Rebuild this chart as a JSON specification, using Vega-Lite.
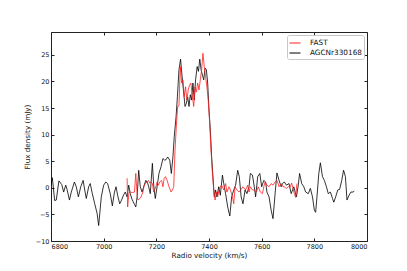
{
  "$schema": "https://vega.github.io/schema/vega-lite/v6.json",
  "autosize": "none",
  "width": 316,
  "height": 209,
  "padding": {"left": 51, "top": 32, "right": 40, "bottom": 30},
  "config": {
    "font": "DejaVu Sans",
    "view": {"stroke": "#222", "strokeWidth": 1},
    "axis": {"grid": false, "domain": false, "tickColor": "#222", "labelColor": "#111", "titleColor": "#111", "labelFontSize": 6.5, "titleFontSize": 7.2, "titleFontWeight": "normal", "tickSize": -3, "labelPadding": 5}
  },
  "datasets": {
    "spec": [
      {"v": 6800, "flux": 0.5, "series": "AGCNr330168"},
      {"v": 6805, "flux": 1.9, "series": "AGCNr330168"},
      {"v": 6814, "flux": -2.4, "series": "AGCNr330168"},
      {"v": 6820, "flux": -2.3, "series": "AGCNr330168"},
      {"v": 6830, "flux": 1.3, "series": "AGCNr330168"},
      {"v": 6841, "flux": 0.6, "series": "AGCNr330168"},
      {"v": 6848, "flux": -0.8, "series": "AGCNr330168"},
      {"v": 6856, "flux": 0.5, "series": "AGCNr330168"},
      {"v": 6861, "flux": -0.3, "series": "AGCNr330168"},
      {"v": 6870, "flux": -2.3, "series": "AGCNr330168"},
      {"v": 6877, "flux": -0.8, "series": "AGCNr330168"},
      {"v": 6889, "flux": 1.1, "series": "AGCNr330168"},
      {"v": 6896, "flux": 0.2, "series": "AGCNr330168"},
      {"v": 6904, "flux": -1.7, "series": "AGCNr330168"},
      {"v": 6913, "flux": 0.2, "series": "AGCNr330168"},
      {"v": 6922, "flux": 1.4, "series": "AGCNr330168"},
      {"v": 6928, "flux": -0.4, "series": "AGCNr330168"},
      {"v": 6934, "flux": -2.0, "series": "AGCNr330168"},
      {"v": 6943, "flux": 0.2, "series": "AGCNr330168"},
      {"v": 6949, "flux": 0.8, "series": "AGCNr330168"},
      {"v": 6957, "flux": -1.1, "series": "AGCNr330168"},
      {"v": 6966, "flux": -3.0, "series": "AGCNr330168"},
      {"v": 6975, "flux": -4.8, "series": "AGCNr330168"},
      {"v": 6981, "flux": -7.1, "series": "AGCNr330168"},
      {"v": 6991, "flux": -1.7, "series": "AGCNr330168"},
      {"v": 7000, "flux": 0.5, "series": "AGCNr330168"},
      {"v": 7008, "flux": 1.1, "series": "AGCNr330168"},
      {"v": 7015, "flux": 0.8, "series": "AGCNr330168"},
      {"v": 7025, "flux": -1.1, "series": "AGCNr330168"},
      {"v": 7033, "flux": -3.4, "series": "AGCNr330168"},
      {"v": 7041, "flux": -0.8, "series": "AGCNr330168"},
      {"v": 7047, "flux": 0.2, "series": "AGCNr330168"},
      {"v": 7053, "flux": -1.4, "series": "AGCNr330168"},
      {"v": 7061, "flux": -3.0, "series": "AGCNr330168"},
      {"v": 7068, "flux": -2.3, "series": "AGCNr330168"},
      {"v": 7076, "flux": -1.3, "series": "AGCNr330168"},
      {"v": 7082, "flux": -0.8, "series": "AGCNr330168"},
      {"v": 7089, "flux": -1.7, "series": "AGCNr330168"},
      {"v": 7095, "flux": 0.5, "series": "AGCNr330168"},
      {"v": 7101, "flux": -1.1, "series": "AGCNr330168"},
      {"v": 7108, "flux": -2.2, "series": "AGCNr330168"},
      {"v": 7117, "flux": -3.1, "series": "AGCNr330168"},
      {"v": 7122, "flux": -3.6, "series": "AGCNr330168"},
      {"v": 7127, "flux": -1.7, "series": "AGCNr330168"},
      {"v": 7133, "flux": 3.3, "series": "AGCNr330168"},
      {"v": 7139, "flux": 0.2, "series": "AGCNr330168"},
      {"v": 7146, "flux": -0.8, "series": "AGCNr330168"},
      {"v": 7152, "flux": 0.2, "series": "AGCNr330168"},
      {"v": 7160, "flux": 1.4, "series": "AGCNr330168"},
      {"v": 7167, "flux": 0.9, "series": "AGCNr330168"},
      {"v": 7171, "flux": 0.2, "series": "AGCNr330168"},
      {"v": 7177, "flux": -1.1, "series": "AGCNr330168"},
      {"v": 7185, "flux": 4.6, "series": "AGCNr330168"},
      {"v": 7190, "flux": 0.5, "series": "AGCNr330168"},
      {"v": 7196, "flux": -2.0, "series": "AGCNr330168"},
      {"v": 7203, "flux": 0.2, "series": "AGCNr330168"},
      {"v": 7210, "flux": 2.7, "series": "AGCNr330168"},
      {"v": 7218, "flux": 4.0, "series": "AGCNr330168"},
      {"v": 7225, "flux": 5.5, "series": "AGCNr330168"},
      {"v": 7232, "flux": 5.2, "series": "AGCNr330168"},
      {"v": 7237, "flux": 5.3, "series": "AGCNr330168"},
      {"v": 7243, "flux": 5.8, "series": "AGCNr330168"},
      {"v": 7251, "flux": 5.2, "series": "AGCNr330168"},
      {"v": 7257, "flux": 2.7, "series": "AGCNr330168"},
      {"v": 7263, "flux": 5.8, "series": "AGCNr330168"},
      {"v": 7268, "flux": 9.6, "series": "AGCNr330168"},
      {"v": 7275, "flux": 13.4, "series": "AGCNr330168"},
      {"v": 7280, "flux": 17.1, "series": "AGCNr330168"},
      {"v": 7286, "flux": 22.2, "series": "AGCNr330168"},
      {"v": 7292, "flux": 24.2, "series": "AGCNr330168"},
      {"v": 7298, "flux": 20.9, "series": "AGCNr330168"},
      {"v": 7304, "flux": 17.8, "series": "AGCNr330168"},
      {"v": 7309, "flux": 15.3, "series": "AGCNr330168"},
      {"v": 7314, "flux": 15.9, "series": "AGCNr330168"},
      {"v": 7319, "flux": 17.1, "series": "AGCNr330168"},
      {"v": 7324, "flux": 15.3, "series": "AGCNr330168"},
      {"v": 7329, "flux": 17.5, "series": "AGCNr330168"},
      {"v": 7334, "flux": 16.5, "series": "AGCNr330168"},
      {"v": 7339, "flux": 19.7, "series": "AGCNr330168"},
      {"v": 7344, "flux": 16.5, "series": "AGCNr330168"},
      {"v": 7349, "flux": 20.3, "series": "AGCNr330168"},
      {"v": 7355, "flux": 22.8, "series": "AGCNr330168"},
      {"v": 7360, "flux": 21.9, "series": "AGCNr330168"},
      {"v": 7365, "flux": 24.2, "series": "AGCNr330168"},
      {"v": 7370, "flux": 22.2, "series": "AGCNr330168"},
      {"v": 7375, "flux": 21.2, "series": "AGCNr330168"},
      {"v": 7380, "flux": 20.3, "series": "AGCNr330168"},
      {"v": 7385, "flux": 22.5, "series": "AGCNr330168"},
      {"v": 7390, "flux": 22.2, "series": "AGCNr330168"},
      {"v": 7395, "flux": 19.7, "series": "AGCNr330168"},
      {"v": 7400, "flux": 14.6, "series": "AGCNr330168"},
      {"v": 7405, "flux": 10.9, "series": "AGCNr330168"},
      {"v": 7410, "flux": 5.8, "series": "AGCNr330168"},
      {"v": 7415, "flux": 2.1, "series": "AGCNr330168"},
      {"v": 7420, "flux": -1.7, "series": "AGCNr330168"},
      {"v": 7425, "flux": -0.4, "series": "AGCNr330168"},
      {"v": 7430, "flux": -1.7, "series": "AGCNr330168"},
      {"v": 7437, "flux": 0.2, "series": "AGCNr330168"},
      {"v": 7443, "flux": -1.4, "series": "AGCNr330168"},
      {"v": 7451, "flux": 2.4, "series": "AGCNr330168"},
      {"v": 7456, "flux": 0.8, "series": "AGCNr330168"},
      {"v": 7463, "flux": -1.1, "series": "AGCNr330168"},
      {"v": 7471, "flux": -3.6, "series": "AGCNr330168"},
      {"v": 7479, "flux": -5.3, "series": "AGCNr330168"},
      {"v": 7486, "flux": -1.7, "series": "AGCNr330168"},
      {"v": 7494, "flux": -0.4, "series": "AGCNr330168"},
      {"v": 7501, "flux": 0.5, "series": "AGCNr330168"},
      {"v": 7509, "flux": 3.3, "series": "AGCNr330168"},
      {"v": 7515, "flux": 2.1, "series": "AGCNr330168"},
      {"v": 7522, "flux": -1.7, "series": "AGCNr330168"},
      {"v": 7529, "flux": -3.0, "series": "AGCNr330168"},
      {"v": 7537, "flux": -0.4, "series": "AGCNr330168"},
      {"v": 7544, "flux": -1.1, "series": "AGCNr330168"},
      {"v": 7552, "flux": 0.2, "series": "AGCNr330168"},
      {"v": 7557, "flux": 2.7, "series": "AGCNr330168"},
      {"v": 7565, "flux": 2.4, "series": "AGCNr330168"},
      {"v": 7572, "flux": 0.2, "series": "AGCNr330168"},
      {"v": 7577, "flux": -1.7, "series": "AGCNr330168"},
      {"v": 7585, "flux": 2.1, "series": "AGCNr330168"},
      {"v": 7593, "flux": 2.7, "series": "AGCNr330168"},
      {"v": 7600, "flux": 0.2, "series": "AGCNr330168"},
      {"v": 7608, "flux": 1.4, "series": "AGCNr330168"},
      {"v": 7615, "flux": 1.1, "series": "AGCNr330168"},
      {"v": 7620, "flux": -0.8, "series": "AGCNr330168"},
      {"v": 7628, "flux": -1.7, "series": "AGCNr330168"},
      {"v": 7636, "flux": -4.2, "series": "AGCNr330168"},
      {"v": 7643, "flux": -5.8, "series": "AGCNr330168"},
      {"v": 7651, "flux": -1.1, "series": "AGCNr330168"},
      {"v": 7658, "flux": 2.8, "series": "AGCNr330168"},
      {"v": 7666, "flux": 1.4, "series": "AGCNr330168"},
      {"v": 7674, "flux": 0.2, "series": "AGCNr330168"},
      {"v": 7679, "flux": 0.8, "series": "AGCNr330168"},
      {"v": 7686, "flux": 1.1, "series": "AGCNr330168"},
      {"v": 7694, "flux": 0.5, "series": "AGCNr330168"},
      {"v": 7704, "flux": 0.8, "series": "AGCNr330168"},
      {"v": 7712, "flux": -1.1, "series": "AGCNr330168"},
      {"v": 7722, "flux": 0.2, "series": "AGCNr330168"},
      {"v": 7732, "flux": -1.7, "series": "AGCNr330168"},
      {"v": 7739, "flux": 0.5, "series": "AGCNr330168"},
      {"v": 7744, "flux": 2.7, "series": "AGCNr330168"},
      {"v": 7752, "flux": 0.8, "series": "AGCNr330168"},
      {"v": 7760, "flux": 0.2, "series": "AGCNr330168"},
      {"v": 7767, "flux": -0.8, "series": "AGCNr330168"},
      {"v": 7777, "flux": -1.1, "series": "AGCNr330168"},
      {"v": 7785, "flux": -0.1, "series": "AGCNr330168"},
      {"v": 7793, "flux": -1.7, "series": "AGCNr330168"},
      {"v": 7800, "flux": -4.2, "series": "AGCNr330168"},
      {"v": 7805, "flux": -4.6, "series": "AGCNr330168"},
      {"v": 7810, "flux": -1.7, "series": "AGCNr330168"},
      {"v": 7817, "flux": 2.7, "series": "AGCNr330168"},
      {"v": 7823, "flux": 4.7, "series": "AGCNr330168"},
      {"v": 7831, "flux": 2.1, "series": "AGCNr330168"},
      {"v": 7838, "flux": 1.4, "series": "AGCNr330168"},
      {"v": 7846, "flux": 0.2, "series": "AGCNr330168"},
      {"v": 7853, "flux": -1.1, "series": "AGCNr330168"},
      {"v": 7861, "flux": -0.8, "series": "AGCNr330168"},
      {"v": 7869, "flux": -2.0, "series": "AGCNr330168"},
      {"v": 7874, "flux": -2.7, "series": "AGCNr330168"},
      {"v": 7881, "flux": -1.7, "series": "AGCNr330168"},
      {"v": 7889, "flux": -0.4, "series": "AGCNr330168"},
      {"v": 7896, "flux": -0.3, "series": "AGCNr330168"},
      {"v": 7904, "flux": 1.4, "series": "AGCNr330168"},
      {"v": 7911, "flux": 3.3, "series": "AGCNr330168"},
      {"v": 7918, "flux": 2.1, "series": "AGCNr330168"},
      {"v": 7924, "flux": -2.3, "series": "AGCNr330168"},
      {"v": 7932, "flux": -1.4, "series": "AGCNr330168"},
      {"v": 7939, "flux": -0.8, "series": "AGCNr330168"},
      {"v": 7947, "flux": -0.8, "series": "AGCNr330168"},
      {"v": 7952, "flux": -0.6, "series": "AGCNr330168"},
      {"v": 7089, "flux": 1.8, "series": "FAST"},
      {"v": 7091, "flux": -3.6, "series": "FAST"},
      {"v": 7096, "flux": -0.9, "series": "FAST"},
      {"v": 7101, "flux": -0.8, "series": "FAST"},
      {"v": 7109, "flux": -0.9, "series": "FAST"},
      {"v": 7117, "flux": -0.8, "series": "FAST"},
      {"v": 7122, "flux": 2.7, "series": "FAST"},
      {"v": 7125, "flux": 0.2, "series": "FAST"},
      {"v": 7129, "flux": -2.2, "series": "FAST"},
      {"v": 7134, "flux": -2.2, "series": "FAST"},
      {"v": 7142, "flux": -1.7, "series": "FAST"},
      {"v": 7149, "flux": -0.8, "series": "FAST"},
      {"v": 7154, "flux": 0.5, "series": "FAST"},
      {"v": 7160, "flux": 0.9, "series": "FAST"},
      {"v": 7165, "flux": 1.1, "series": "FAST"},
      {"v": 7170, "flux": 1.4, "series": "FAST"},
      {"v": 7175, "flux": 0.9, "series": "FAST"},
      {"v": 7180, "flux": 1.1, "series": "FAST"},
      {"v": 7185, "flux": 0.8, "series": "FAST"},
      {"v": 7190, "flux": -0.8, "series": "FAST"},
      {"v": 7198, "flux": 0.2, "series": "FAST"},
      {"v": 7203, "flux": 1.1, "series": "FAST"},
      {"v": 7208, "flux": 0.5, "series": "FAST"},
      {"v": 7213, "flux": 1.1, "series": "FAST"},
      {"v": 7220, "flux": 1.4, "series": "FAST"},
      {"v": 7225, "flux": 0.2, "series": "FAST"},
      {"v": 7230, "flux": 1.8, "series": "FAST"},
      {"v": 7235, "flux": 2.1, "series": "FAST"},
      {"v": 7241, "flux": 1.4, "series": "FAST"},
      {"v": 7248, "flux": 0.2, "series": "FAST"},
      {"v": 7256, "flux": -0.8, "series": "FAST"},
      {"v": 7261, "flux": -0.4, "series": "FAST"},
      {"v": 7266, "flux": 0.2, "series": "FAST"},
      {"v": 7271, "flux": 7.1, "series": "FAST"},
      {"v": 7276, "flux": 11.6, "series": "FAST"},
      {"v": 7281, "flux": 15.3, "series": "FAST"},
      {"v": 7286, "flux": 15.4, "series": "FAST"},
      {"v": 7291, "flux": 22.8, "series": "FAST"},
      {"v": 7296, "flux": 19.7, "series": "FAST"},
      {"v": 7301, "flux": 20.3, "series": "FAST"},
      {"v": 7306, "flux": 17.1, "series": "FAST"},
      {"v": 7311, "flux": 19.0, "series": "FAST"},
      {"v": 7316, "flux": 16.5, "series": "FAST"},
      {"v": 7321, "flux": 18.4, "series": "FAST"},
      {"v": 7326, "flux": 19.3, "series": "FAST"},
      {"v": 7331, "flux": 19.7, "series": "FAST"},
      {"v": 7337, "flux": 17.1, "series": "FAST"},
      {"v": 7342, "flux": 15.3, "series": "FAST"},
      {"v": 7347, "flux": 19.0, "series": "FAST"},
      {"v": 7352, "flux": 18.0, "series": "FAST"},
      {"v": 7357, "flux": 19.7, "series": "FAST"},
      {"v": 7362, "flux": 18.4, "series": "FAST"},
      {"v": 7367, "flux": 20.3, "series": "FAST"},
      {"v": 7372, "flux": 22.2, "series": "FAST"},
      {"v": 7377, "flux": 25.3, "series": "FAST"},
      {"v": 7382, "flux": 22.8, "series": "FAST"},
      {"v": 7387, "flux": 20.9, "series": "FAST"},
      {"v": 7392, "flux": 19.0, "series": "FAST"},
      {"v": 7397, "flux": 16.5, "series": "FAST"},
      {"v": 7402, "flux": 12.7, "series": "FAST"},
      {"v": 7407, "flux": 7.7, "series": "FAST"},
      {"v": 7413, "flux": 2.7, "series": "FAST"},
      {"v": 7418, "flux": -0.4, "series": "FAST"},
      {"v": 7423, "flux": -2.3, "series": "FAST"},
      {"v": 7428, "flux": -0.8, "series": "FAST"},
      {"v": 7433, "flux": -1.7, "series": "FAST"},
      {"v": 7438, "flux": -0.4, "series": "FAST"},
      {"v": 7443, "flux": 0.2, "series": "FAST"},
      {"v": 7448, "flux": 0.5, "series": "FAST"},
      {"v": 7456, "flux": -0.4, "series": "FAST"},
      {"v": 7463, "flux": 0.8, "series": "FAST"},
      {"v": 7468, "flux": -0.8, "series": "FAST"},
      {"v": 7476, "flux": 0.2, "series": "FAST"},
      {"v": 7481, "flux": -0.4, "series": "FAST"},
      {"v": 7488, "flux": -1.4, "series": "FAST"},
      {"v": 7494, "flux": -3.0, "series": "FAST"},
      {"v": 7499, "flux": 0.2, "series": "FAST"},
      {"v": 7506, "flux": -0.4, "series": "FAST"},
      {"v": 7514, "flux": -0.8, "series": "FAST"},
      {"v": 7522, "flux": -0.3, "series": "FAST"},
      {"v": 7529, "flux": 0.2, "series": "FAST"},
      {"v": 7539, "flux": -0.4, "series": "FAST"},
      {"v": 7547, "flux": 0.5, "series": "FAST"},
      {"v": 7552, "flux": -0.8, "series": "FAST"},
      {"v": 7557, "flux": 0.2, "series": "FAST"},
      {"v": 7565, "flux": -0.4, "series": "FAST"},
      {"v": 7572, "flux": -0.4, "series": "FAST"},
      {"v": 7580, "flux": -0.8, "series": "FAST"},
      {"v": 7587, "flux": 0.2, "series": "FAST"},
      {"v": 7595, "flux": -0.8, "series": "FAST"},
      {"v": 7603, "flux": -1.1, "series": "FAST"},
      {"v": 7608, "flux": 0.2, "series": "FAST"},
      {"v": 7613, "flux": 1.1, "series": "FAST"},
      {"v": 7620, "flux": 0.5, "series": "FAST"},
      {"v": 7628, "flux": 0.2, "series": "FAST"},
      {"v": 7636, "flux": 0.8, "series": "FAST"},
      {"v": 7643, "flux": 0.5, "series": "FAST"},
      {"v": 7651, "flux": 1.1, "series": "FAST"},
      {"v": 7658, "flux": 1.4, "series": "FAST"},
      {"v": 7666, "flux": 0.2, "series": "FAST"},
      {"v": 7674, "flux": 0.8, "series": "FAST"},
      {"v": 7681, "flux": 0.2, "series": "FAST"},
      {"v": 7686, "flux": 0.2, "series": "FAST"},
      {"v": 7694, "flux": -0.1, "series": "FAST"},
      {"v": 7701, "flux": 0.2, "series": "FAST"},
      {"v": 7709, "flux": 0.2, "series": "FAST"},
      {"v": 7714, "flux": 0.9, "series": "FAST"},
      {"v": 7719, "flux": -0.1, "series": "FAST"},
      {"v": 7724, "flux": -1.1, "series": "FAST"},
      {"v": 7729, "flux": -1.8, "series": "FAST"},
      {"v": 7734, "flux": 0.8, "series": "FAST"}
    ]
  },
  "data": {"name": "spec"},
  "layer": [
    {
      "mark": {"type": "line", "strokeWidth": 0.8, "clip": true},
      "encoding": {
        "x": {"field": "v", "type": "quantitative", "scale": {"domain": [6800, 8000], "nice": false, "zero": false},
              "axis": {"orient": "bottom", "values": [6800, 7000, 7200, 7400, 7600, 7800, 8000], "title": "Radio velocity (km/s)", "format": "d", "titlePadding": 2}},
        "y": {"field": "flux", "type": "quantitative", "scale": {"domain": [-10, 29.3], "nice": false, "zero": false},
              "axis": {"orient": "left", "values": [-10, -5, 0, 5, 10, 15, 20, 25], "title": "Flux density (mJy)", "titlePadding": 4}},
        "color": {"field": "series", "type": "nominal", "sort": ["FAST", "AGCNr330168"],
                  "scale": {"domain": ["FAST", "AGCNr330168"], "range": ["#ff2020", "#000000"]},
                  "legend": {"title": null, "orient": "top-right", "offset": 3, "symbolType": "stroke", "symbolSize": 121, "symbolStrokeWidth": 1, "labelFontSize": 7.3, "labelColor": "#111", "strokeColor": "#c8c8c8", "cornerRadius": 2, "padding": 2, "rowPadding": 0, "fillColor": "white", "labelOffset": 9}},
        "order": {"field": "v", "type": "quantitative"}
      }
    },
    {
      "mark": {"type": "line", "strokeOpacity": 0},
      "encoding": {
        "x": {"field": "v", "type": "quantitative", "axis": {"orient": "top", "values": [6800, 7000, 7200, 7400, 7600, 7800, 8000], "labels": false, "title": null}},
        "y": {"field": "flux", "type": "quantitative", "axis": {"orient": "right", "values": [-10, -5, 0, 5, 10, 15, 20, 25], "labels": false, "title": null}},
        "detail": {"field": "series"}
      }
    }
  ],
  "resolve": {"axis": {"x": "independent", "y": "independent"}}
}
